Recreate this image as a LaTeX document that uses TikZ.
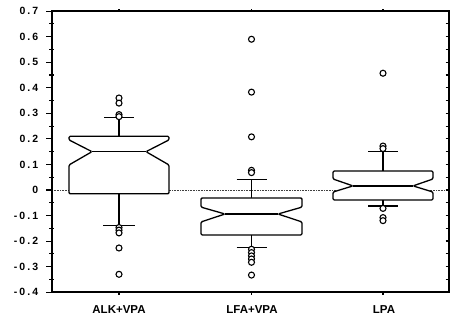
\documentclass[tikz,border=0pt]{standalone}
\usepackage{fontspec}
\setmainfont{Liberation Sans}
\newfontfamily\axfont{Liberation Sans}[LetterSpace=20]
\begin{document}
\begin{tikzpicture}[x=1pt,y=255.5pt,
  axisline/.style={line width=1.6pt},
  boxline/.style={line width=1.3pt, fill=white, rounded corners=1.2pt},
  whisk/.style={line width=1.3pt},
  outl/.style={line width=1.1pt, fill=white},
  ylab/.style={anchor=east, font=\axfont\bfseries\fontsize{10.5}{11}\selectfont, inner sep=0pt},
  xlab/.style={font=\bfseries\fontsize{11.5}{12}\selectfont, inner sep=0pt},
  zeroline/.style={line width=0.6pt, densely dotted, black!75}]
\useasboundingbox (0,-0.5166) rectangle (453,0.7436);
\fill[white] (0,-0.5166) rectangle (453,0.7436);
% corners of the frame
\coordinate (bl) at (52,-0.4);
\coordinate (br) at (449,-0.4);
\coordinate (tl) at (52,0.7);
\coordinate (tr) at (449,0.7);
\coordinate (z0) at (52,0);
\coordinate (z1) at (449,0);
% zero line
\draw[zeroline] (z0) -- (z1);
% boxes: cx, hw, inset, q3, nhi, med, nlo, q1
\newcommand{\nbox}[8]{%
  \draw[boxline] (#1-#2,#4) -- (#1+#2,#4) -- (#1+#2,#5) -- (#1+#2-#3,#6) -- (#1+#2,#7) -- (#1+#2,#8) -- (#1-#2,#8) -- (#1-#2,#7) -- (#1-#2+#3,#6) -- (#1-#2,#5) -- cycle;
  \draw[whisk] (#1-#2+#3,#6) -- (#1+#2-#3,#6);}
\newcommand{\whisker}[4]{% cx, from, to, cap halfwidth
  \draw[whisk] (#1,#2) -- (#1,#3);
  \draw[whisk] (#1-#4,#3) -- (#1+#4,#3);}
\newcommand{\outs}[2]{\foreach \v in {#2} {\draw[outl] (#1,\v) circle[radius=3pt];}}
% ALK+VPA
\whisker{119}{0.21}{0.285}{15}
\whisker{119}{-0.015}{-0.14}{16}
\outs{119}{0.36,0.34,0.295,0.287}
\outs{119}{-0.147,-0.157,-0.168,-0.227,-0.33}
\nbox{119}{50}{23}{0.21}{0.196}{0.15}{0.098}{-0.015}
% LFA+VPA
\whisker{251.5}{-0.031}{0.04}{15}
\whisker{251.5}{-0.176}{-0.225}{15}
\outs{251.5}{0.59,0.383,0.208,0.077,0.068}
\outs{251.5}{-0.232,-0.245,-0.258,-0.27,-0.283,-0.333}
\nbox{251.5}{50.5}{24}{-0.031}{-0.067}{-0.094}{-0.125}{-0.176}
% LPA
\whisker{383}{0.074}{0.150}{15}
\whisker{383}{-0.039}{-0.063}{15}
\outs{383}{0.457,0.172,0.162}
\outs{383}{-0.072,-0.108,-0.120}
\nbox{383}{50}{20}{0.074}{0.043}{0.016}{-0.008}{-0.039}
% frame
\draw[axisline] (bl) -- (br) -- (tr) -- (tl) -- cycle;
% left ticks and labels
\foreach \v/\t in {0.7/0.7,0.6/0.6,0.5/0.5,0.4/0.4,0.3/0.3,0.2/0.2,0.1/0.1,0/0,-0.1/-0.1,-0.2/-0.2,-0.3/-0.3,-0.4/-0.4} {
  \draw[line width=1.1pt] (46,\v) -- (52,\v);
  \node[ylab] (yl) at (38.5,\v) {\t};
}
\foreach \v in {0.65,0.55,0.45,0.35,0.25,0.15,0.05,-0.05,-0.15,-0.25,-0.35} {
  \draw[line width=1.1pt] (49,\v) -- (54,\v);
}
% right ticks
\foreach \v in {0.65,0.6,...,-0.35} {
  \draw[line width=1.1pt] (445.5,\v) -- (449,\v);
}
% top / bottom ticks
\foreach \x in {119,251.5,383} {
  \draw[line width=1.1pt] (\x,0.7) -- (\x,0.71);
  \draw[line width=1.1pt] (\x,-0.4) -- (\x,-0.41);
}
% x labels
\node[xlab] (la) at (119,-0.468) {ALK+VPA};
\node[xlab] (lb) at (252,-0.468) {LFA+VPA};
\node[xlab] (lc) at (384,-0.468) {LPA};
\end{tikzpicture}
\end{document}
